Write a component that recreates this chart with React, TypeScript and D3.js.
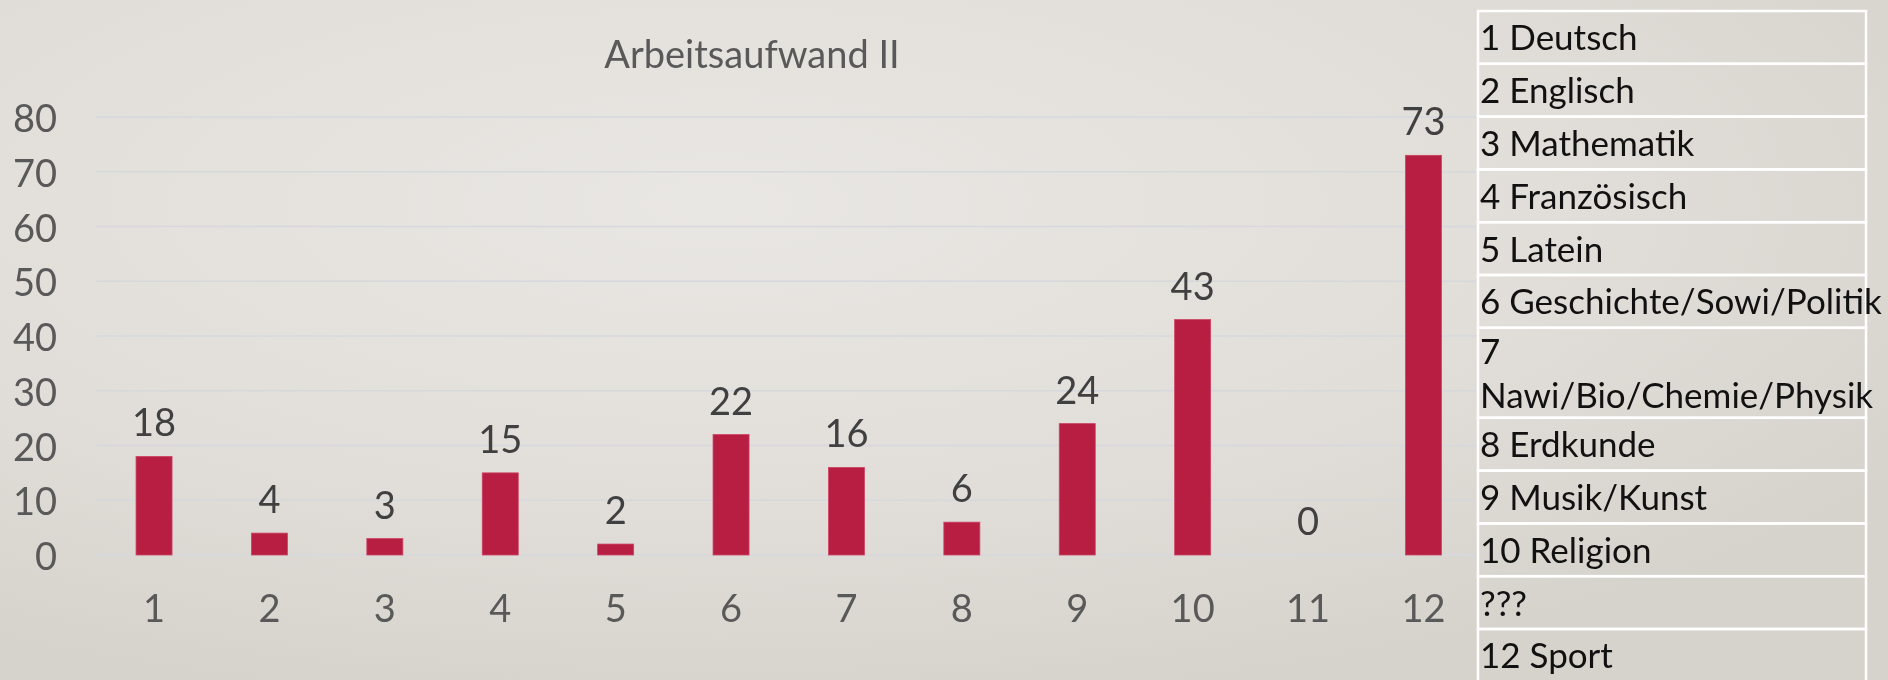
import React from "react";
import * as d3 from "d3";

const categories = ["1", "2", "3", "4", "5", "6", "7", "8", "9", "10", "11", "12"];
const values = [18, 4, 3, 15, 2, 22, 16, 6, 24, 43, 0, 73];
const yTicks = [0, 10, 20, 30, 40, 50, 60, 70, 80];
const title = "Arbeitsaufwand II";
const tableRows = [
  ["1 Deutsch"],
  ["2 Englisch"],
  ["3 Mathematik"],
  ["4 Französisch"],
  ["5 Latein"],
  ["6 Geschichte/Sowi/Politik"],
  ["7", "Nawi/Bio/Chemie/Physik"],
  ["8 Erdkunde"],
  ["9 Musik/Kunst"],
  ["10 Religion"],
  ["???"],
  ["12 Sport"],
];

const W = 1888;
const H = 680;
const FONT = "Lato, 'Open Sans', sans-serif";

export default function App() {
  const x = d3
    .scaleBand<string>()
    .domain(categories)
    .range([96, 1481.5])
    .paddingInner(0.688)
    .paddingOuter(0.347);
  const y = d3.scaleLinear().domain([0, 80]).range([555, 117]);

  // table layout
  const tLeft = 1478;
  const tRight = 1866;
  const tTop = 11;
  const lineGap = 44;
  const rowH = (n: number) => 15.6 + 37.2 * n;
  let acc = tTop;
  const rowsLayout = tableRows.map((lines) => {
    const top = acc;
    const h = rowH(lines.length);
    acc += h;
    return { lines, top, h };
  });

  return (
    <svg
      width={W}
      height={H}
      style={{ position: "fixed", left: 0, top: 0, display: "block" }}
    >
      <defs>
        <radialGradient id="bg" cx="0.38" cy="0.3" r="0.75">
          <stop offset="0" stopColor="#E9E7E3" />
          <stop offset="0.6" stopColor="#E1DED9" />
          <stop offset="1" stopColor="#D6D3CD" />
        </radialGradient>
      </defs>
      <rect x={0} y={0} width={W} height={H} fill="url(#bg)" />

      {/* gridlines */}
      {yTicks.map((t) => (
        <line
          key={"g" + t}
          x1={96}
          x2={1478}
          y1={y(t)}
          y2={y(t)}
          stroke="#D6D8DE"
          strokeWidth={1.5}
        />
      ))}

      {/* y tick labels */}
      {yTicks.map((t) => (
        <text
          key={"yt" + t}
          x={57}
          y={y(t)}
          textAnchor="end"
          dominantBaseline="central"
          fontFamily={FONT}
          fontSize={38}
          fill="#595959"
        >
          {t}
        </text>
      ))}

      {/* title */}
      <text
        x={752}
        y={68}
        textAnchor="middle"
        fontFamily={FONT}
        fontSize={38}
        fill="#595959"
      >
        {title}
      </text>

      {/* bars */}
      {categories.map((c, i) => (
        <rect
          key={"b" + c}
          x={x(c)}
          y={y(values[i])}
          width={x.bandwidth()}
          height={y(0) - y(values[i])}
          fill="#B81D42"
          stroke={values[i] > 0 ? "#CC4463" : "none"}
          strokeWidth={0.8}
        />
      ))}

      {/* value labels */}
      {categories.map((c, i) => (
        <text
          key={"v" + c}
          x={(x(c) as number) + x.bandwidth() / 2}
          y={y(values[i]) - 20}
          textAnchor="middle"
          fontFamily={FONT}
          fontSize={38}
          fill="#404040"
        >
          {values[i]}
        </text>
      ))}

      {/* x tick labels */}
      {categories.map((c) => (
        <text
          key={"x" + c}
          x={(x(c) as number) + x.bandwidth() / 2}
          y={622}
          textAnchor="middle"
          fontFamily={FONT}
          fontSize={38}
          fill="#595959"
        >
          {c}
        </text>
      ))}

      {/* table */}
      {rowsLayout.map((r, i) => (
        <g key={"row" + i}>
          <rect
            x={tLeft}
            y={r.top}
            width={tRight - tLeft}
            height={r.h}
            fill="none"
            stroke="#FFFFFF"
            strokeWidth={2.5}
          />
          {r.lines.map((ln, j) => (
            <text
              key={j}
              x={tLeft + 2}
              y={r.top + r.h / 2 + (j - (r.lines.length - 1) / 2) * lineGap + 13}
              fontFamily={FONT}
              fontSize={35}
              fill="#111111"
            >
              {ln}
            </text>
          ))}
        </g>
      ))}
    </svg>
  );
}
